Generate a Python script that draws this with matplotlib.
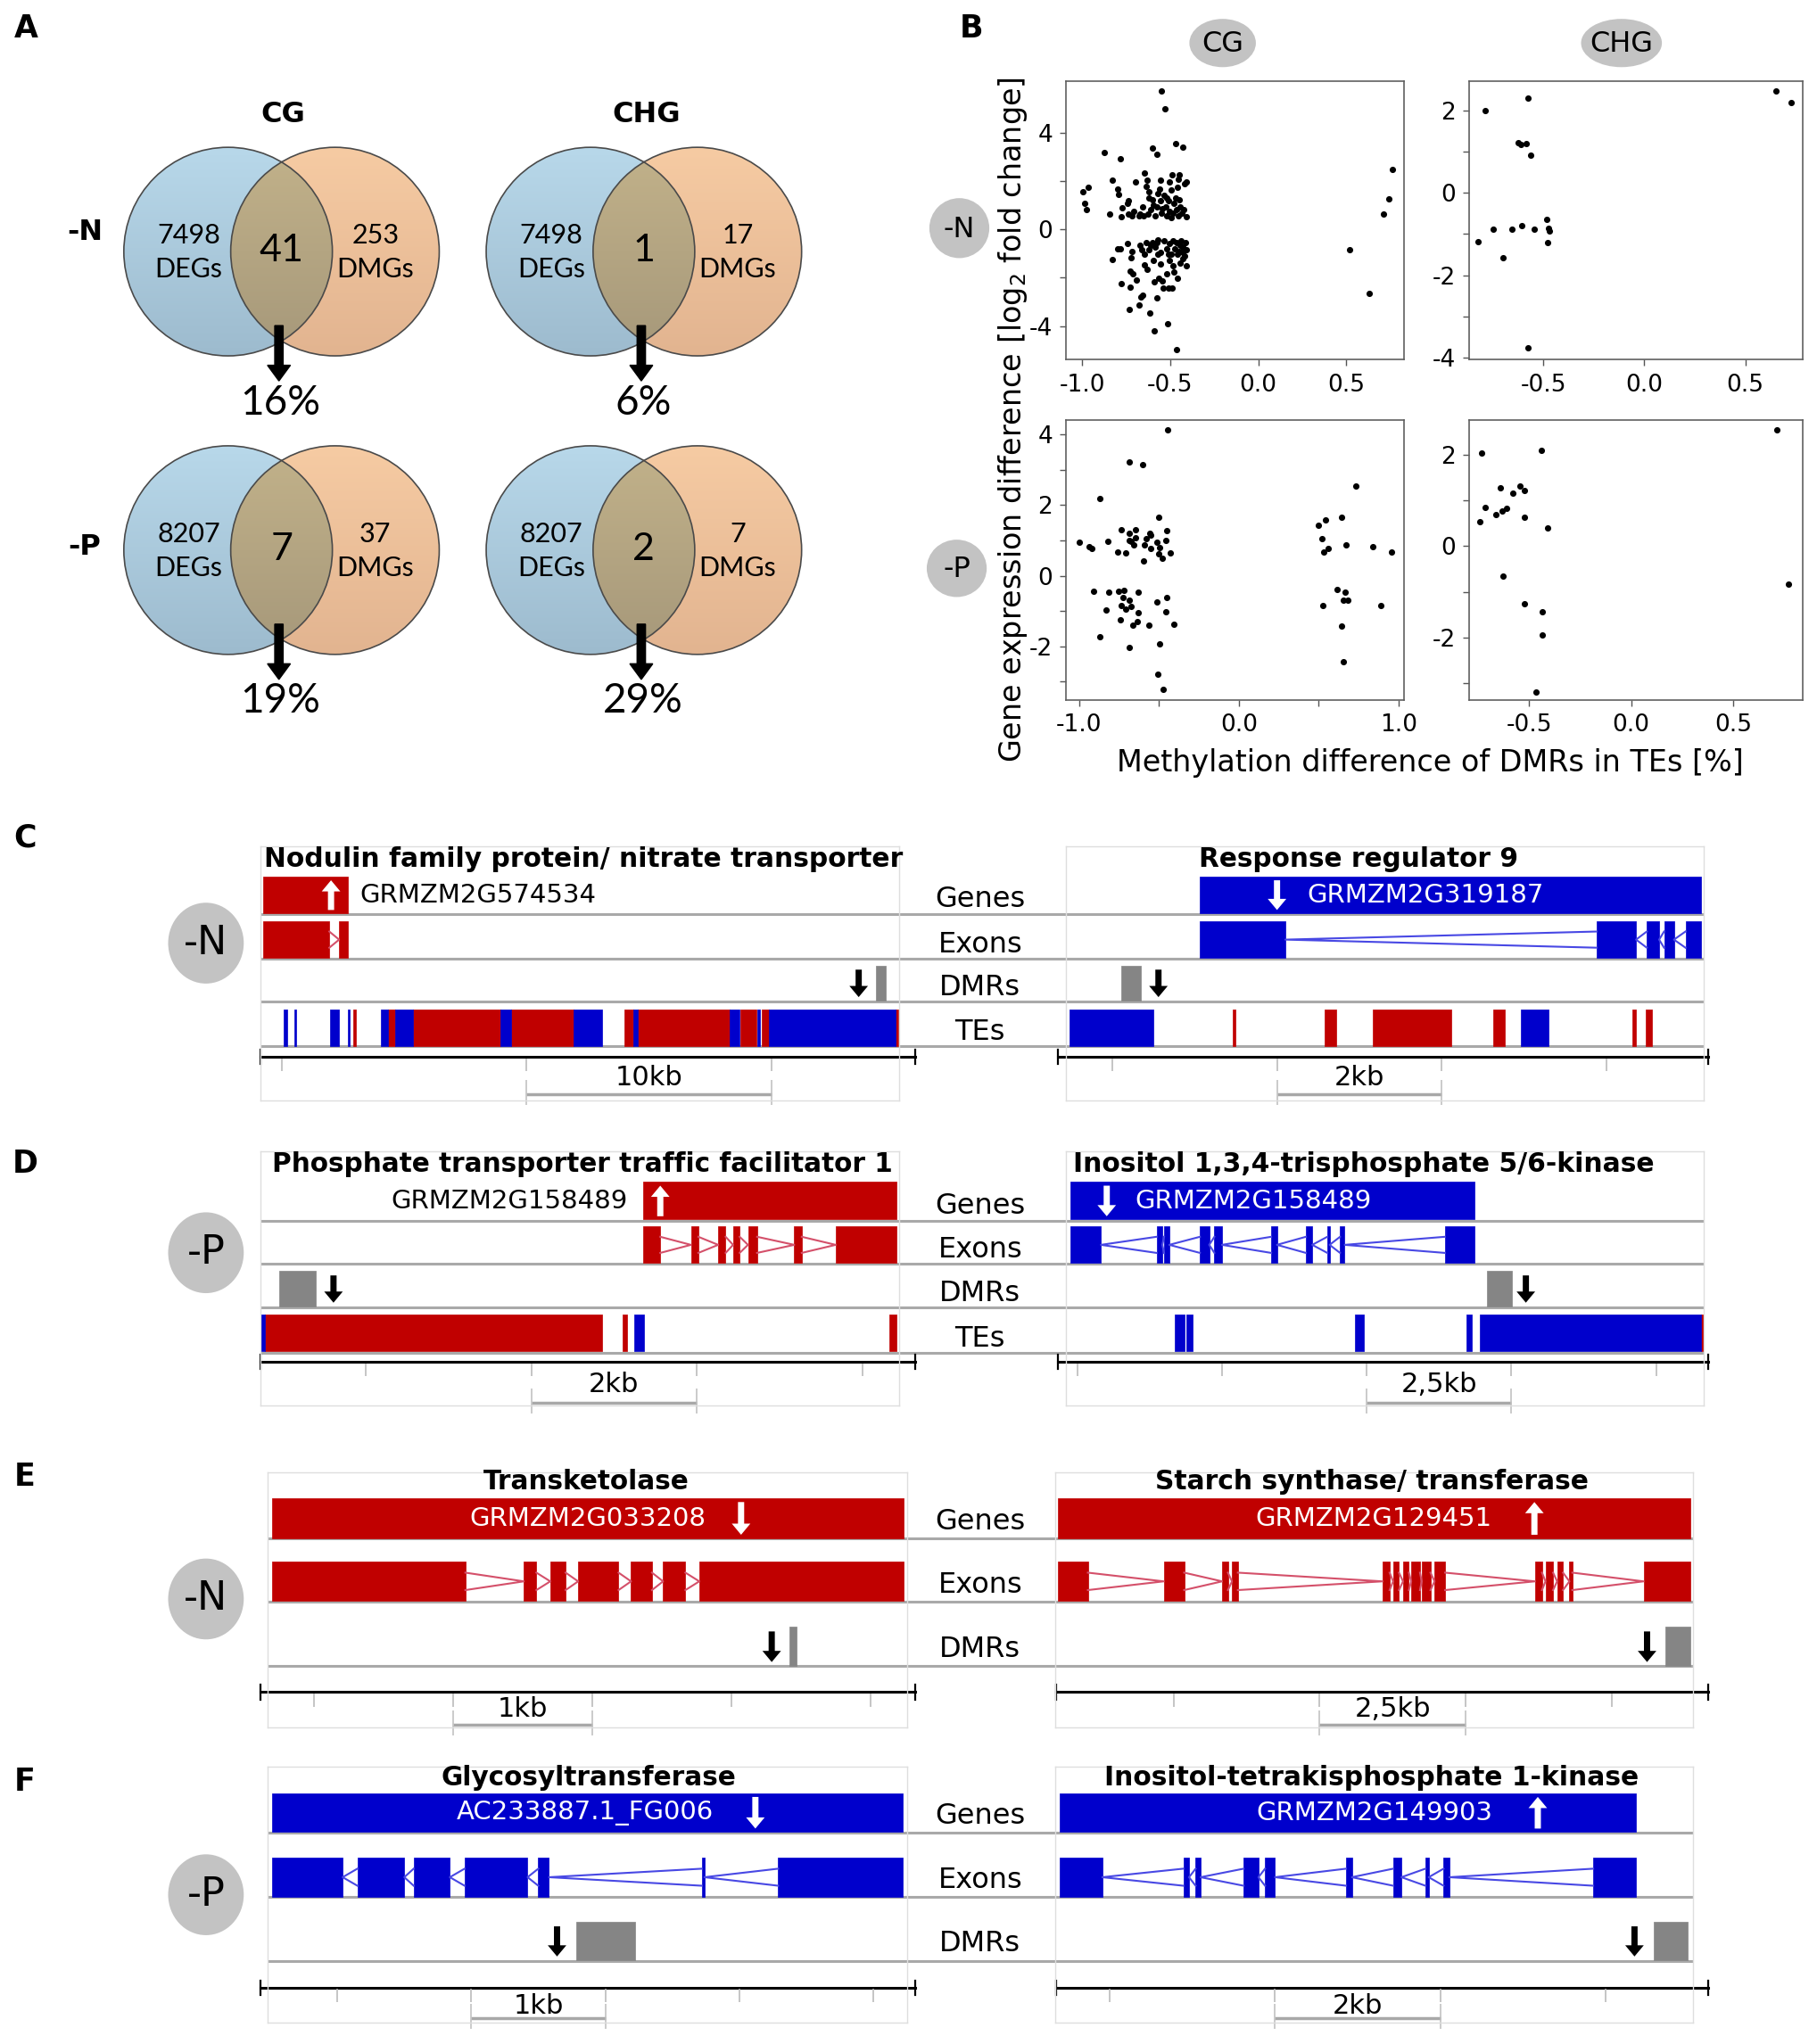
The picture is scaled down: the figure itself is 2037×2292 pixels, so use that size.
import numpy as np
import matplotlib
matplotlib.use('Agg')
import matplotlib.pyplot as plt
from matplotlib.colors import to_rgb
from matplotlib.patches import Circle, Ellipse, Polygon
from matplotlib.transforms import blended_transform_factory

plt.rcParams['font.family'] = 'DejaVu Sans'
plt.rcParams['axes.unicode_minus'] = False

# ---------------- data ----------------
# A: overlap of DEGs and DMGs
venn_deg = ['7498', '7498', '8207', '8207']
venn_dmg = ['253', '17', '37', '7']
venn_both = ['41', '1', '7', '2']
venn_pct = ['16%', '6%', '19%', '29%']

# B: methylation difference (x) vs log2 fold change (y)
cg_n = [(-0.549, 5.74), (-0.529, 4.99), (-0.468, 3.56), (-0.429, 3.42), (-0.603, 3.36), (-0.574, 3.10),
        (-0.872, 3.17), (-0.785, 2.91), (-0.648, 2.34), (-0.488, 2.26), (-0.449, 2.26), (-0.827, 2.02),
        (-0.697, 1.96), (-0.633, 2.04), (-0.557, 2.02), (-0.503, 1.96), (-0.454, 2.06), (-0.409, 1.96),
        (-0.418, 1.89), (-0.993, 1.57), (-0.965, 1.73), (-0.796, 1.67), (-0.791, 1.45), (-0.636, 1.79),
        (-0.620, 1.57), (-0.561, 1.67), (-0.493, 1.63), (-0.460, 1.73), (-0.985, 1.08), (-0.976, 0.81),
        (-0.737, 1.20), (-0.741, 1.06), (-0.774, 0.90), (-0.842, 0.65), (-0.776, 0.54), (-0.737, 0.63),
        (-0.717, 0.56), (-0.709, 0.75), (-0.678, 0.56), (-0.657, 0.93), (-0.650, 0.56), (-0.628, 0.63),
        (-0.620, 1.30), (-0.603, 1.24), (-0.586, 0.56), (-0.577, 0.93), (-0.572, 1.48), (-0.556, 1.18),
        (-0.552, 0.66), (-0.535, 1.42), (-0.527, 0.93), (-0.519, 0.56), (-0.510, 1.18), (-0.502, 0.75),
        (-0.493, 0.50), (-0.481, 1.06), (-0.471, 1.30), (-0.465, 0.81), (-0.454, 0.56), (-0.448, 1.24),
        (-0.443, 0.93), (-0.434, 0.69), (-0.421, 0.81), (-0.409, 0.54), (-0.594, 0.99), (-0.611, 0.81),
        (-0.544, 0.87), (-0.485, 0.69), (-0.522, 1.30), (-0.670, 0.63),
        (-0.830, -1.24), (-0.796, -0.82), (-0.783, -0.79), (-0.741, -0.60), (-0.717, -0.91), (-0.721, -1.18),
        (-0.670, -0.66), (-0.645, -1.03), (-0.636, -0.54), (-0.620, -0.85), (-0.603, -0.54), (-0.586, -0.72),
        (-0.569, -0.42), (-0.556, -0.97), (-0.535, -0.48), (-0.519, -0.79), (-0.505, -0.60), (-0.493, -1.03),
        (-0.476, -0.79), (-0.465, -0.54), (-0.451, -0.91), (-0.438, -0.48), (-0.426, -0.72), (-0.413, -0.54),
        (-0.409, -1.52), (-0.426, -1.21), (-0.443, -1.40), (-0.485, -1.52), (-0.502, -1.28), (-0.481, -1.77),
        (-0.519, -1.83), (-0.556, -1.42), (-0.594, -1.28), (-0.646, -1.46), (-0.633, -1.67), (-0.727, -1.74),
        (-0.710, -1.83), (-0.690, -2.11), (-0.779, -2.23), (-0.726, -2.40), (-0.591, -2.17), (-0.566, -2.01),
        (-0.544, -2.13), (-0.539, -2.44), (-0.510, -2.42), (-0.488, -2.42), (-0.460, -2.04), (-0.657, -2.72),
        (-0.665, -2.81), (-0.678, -3.12), (-0.574, -2.85), (-0.734, -3.33), (-0.614, -3.45), (-0.512, -3.90),
        (-0.588, -4.20), (-0.463, -4.98), (-0.485, -0.48), (-0.460, -1.03), (-0.426, -0.97), (-0.409, -0.85),
        (-0.510, -1.03), (-0.569, -1.03), (-0.611, -0.66), (-0.662, -0.85), (-0.577, -0.54), (-0.446, -0.66),
        (-0.418, -1.09),
        (0.52, -0.86), (0.63, -2.65), (0.71, 0.64), (0.74, 1.28), (0.76, 2.49)]
chg_n = [(-0.786, 2.00), (-0.577, 2.32), (-0.625, 1.23), (-0.611, 1.17), (-0.583, 1.21), (-0.561, 0.92),
         (-0.825, -1.18), (-0.749, -0.88), (-0.701, -1.57), (-0.654, -0.88), (-0.606, -0.79), (-0.546, -0.88),
         (-0.485, -0.64), (-0.473, -0.86), (-0.470, -0.92), (-0.479, -1.21), (-0.575, -3.77),
         (0.654, 2.49), (0.727, 2.21)]
cg_p = [(-0.444, 4.13), (-0.684, 3.23), (-0.601, 3.16), (-0.868, 2.20), (-0.501, 1.66), (-1.000, 0.95),
        (-0.934, 0.83), (-0.919, 0.78), (-0.817, 0.97), (-0.738, 1.30), (-0.684, 1.21), (-0.646, 1.30),
        (-0.648, 1.07), (-0.685, 1.00), (-0.676, 0.98), (-0.657, 0.88), (-0.757, 0.68), (-0.710, 0.65),
        (-0.597, 0.41), (-0.591, 0.88), (-0.582, 1.04), (-0.559, 1.20), (-0.554, 1.15), (-0.554, 0.77),
        (-0.512, 0.95), (-0.495, 0.81), (-0.503, 0.61), (-0.476, 0.50), (-0.456, 1.01), (-0.452, 1.28),
        (-0.429, 0.65),
        (-0.908, -0.45), (-0.812, -0.47), (-0.751, -0.44), (-0.719, -0.42), (-0.727, -0.62), (-0.687, -0.68),
        (-0.631, -0.47), (-0.733, -0.85), (-0.706, -0.95), (-0.674, -0.88), (-0.831, -0.97), (-0.631, -1.05),
        (-0.742, -1.26), (-0.637, -1.31), (-0.661, -1.41), (-0.563, -1.41), (-0.512, -0.73), (-0.452, -0.61),
        (-0.458, -1.01), (-0.407, -1.38), (-0.868, -1.73), (-0.687, -2.04), (-0.495, -1.93), (-0.508, -2.80),
        (-0.475, -3.23),
        (0.734, 2.53), (0.499, 1.43), (0.542, 1.59), (0.646, 1.66), (0.518, 1.04), (0.561, 0.78),
        (0.533, 0.68), (0.670, 0.88), (0.838, 0.83), (0.957, 0.68), (0.614, -0.38), (0.665, -0.47),
        (0.657, -0.69), (0.684, -0.69), (0.527, -0.85), (0.887, -0.84), (0.646, -1.43), (0.652, -2.43)]
chg_p = [(-0.732, 2.04), (-0.742, 0.53), (-0.712, 0.85), (-0.660, 0.69), (-0.641, 1.27), (-0.630, 0.77),
         (-0.611, 0.83), (-0.578, 1.16), (-0.545, 1.31), (-0.523, 1.22), (-0.521, 0.64), (-0.625, -0.66),
         (-0.523, -1.27), (-0.441, 2.10), (-0.408, 0.40), (-0.436, -1.44), (-0.433, -1.94), (-0.466, -3.19),
         (0.710, 2.54), (0.767, -0.84)]

# C-F: genome tracks, positions in kb from the left edge of each window
c1_span = 26.06
c1_gene = (0.10, 3.56)
c1_exons = [(0.10, 2.80), (3.20, 3.55)]
c1_dmrs = [(25.10, 25.50)]
c1_te_red = [(3.78, 3.88), (5.21, 5.48), (6.22, 9.79), (10.21, 12.77), (14.84, 15.21), (15.40, 19.15),
             (19.57, 20.21), (20.43, 20.74), (25.90, 26.00)]
c1_te_blue = [(0.94, 1.09), (1.38, 1.43), (2.82, 3.19), (3.56, 3.64), (4.89, 5.21), (5.48, 6.22),
              (9.79, 10.21), (12.77, 13.94), (15.21, 15.40), (19.15, 19.52), (20.27, 20.37), (20.74, 25.90)]
c1_ticks = [0.85, 10.85, 20.85]

c2_span = 7.74
c2_gene = (1.62, 7.71)
c2_exons = [(1.62, 2.66), (6.44, 6.92), (7.05, 7.20), (7.26, 7.38), (7.52, 7.71)]
c2_dmrs = [(0.67, 0.91)]
c2_te_red = [(2.02, 2.06), (3.14, 3.28), (3.72, 4.68), (5.18, 5.33), (6.88, 6.92), (7.04, 7.11)]
c2_te_blue = [(0.04, 1.06), (5.52, 5.86)]
c2_ticks = [0.56, 2.56, 4.56, 6.56]

d1_span = 7.72
d1_gene = (4.62, 7.68)
d1_exons = [(4.62, 4.83), (5.20, 5.29), (5.53, 5.62), (5.71, 5.79), (5.89, 6.00), (6.45, 6.54), (6.95, 7.68)]
d1_dmrs = [(0.22, 0.67)]
d1_te_red = [(0.05, 4.13), (4.38, 4.43), (7.60, 7.69)]
d1_te_blue = [(0.00, 0.05), (4.52, 4.63)]
d1_ticks = [1.27, 3.27, 5.27, 7.27]

d2_span = 11.01
d2_gene = (0.07, 7.05)
d2_exons = [(0.07, 0.60), (1.56, 1.66), (1.69, 1.78), (2.31, 2.47), (2.56, 2.69), (3.54, 3.64),
            (4.14, 4.25), (4.51, 4.55), (4.73, 4.81), (6.54, 7.05)]
d2_dmrs = [(7.27, 7.70)]
d2_te_red = [(10.96, 11.01)]
d2_te_blue = [(1.88, 2.04), (2.07, 2.18), (4.99, 5.14), (6.91, 7.01), (7.14, 10.96)]
d2_ticks = [0.19, 2.69, 5.19, 7.69, 10.19]

e1_span = 4.59
e1_gene = (0.03, 4.57)
e1_exons = [(0.03, 1.42), (1.84, 1.93), (2.03, 2.14), (2.23, 2.52), (2.61, 2.76), (2.84, 3.00), (3.10, 4.57)]
e1_dmrs = [(3.75, 3.80)]
e1_ticks = [0.33, 1.33, 2.33, 3.33, 4.33]

e2_span = 10.93
e2_gene = (0.05, 10.88)
e2_exons = [(0.05, 0.56), (1.86, 2.21), (2.86, 2.96), (3.03, 3.13), (5.61, 5.73), (5.79, 5.89), (5.96, 6.06),
            (6.10, 6.25), (6.28, 6.43), (6.50, 6.68), (8.22, 8.34), (8.40, 8.53), (8.60, 8.70), (8.81, 8.86),
            (10.08, 10.88)]
e2_dmrs = [(10.45, 10.88)]
e2_ticks = [2.03, 4.53, 7.03, 9.53]

f1_span = 4.77
f1_gene = (0.03, 4.74)
f1_exons = [(0.03, 0.56), (0.67, 1.02), (1.09, 1.36), (1.47, 1.94), (2.02, 2.10), (3.24, 3.26), (3.81, 4.74)]
f1_dmrs = [(2.30, 2.74)]
f1_ticks = [0.52, 1.52, 2.52, 3.52, 4.52]

f2_span = 7.72
f2_gene = (0.05, 7.03)
f2_exons = [(0.05, 0.57), (1.55, 1.62), (1.70, 1.76), (2.28, 2.46), (2.54, 2.66), (3.52, 3.59),
            (4.09, 4.19), (4.48, 4.52), (4.70, 4.77), (6.51, 7.03)]
f2_dmrs = [(7.24, 7.65)]
f2_ticks = [0.66, 2.66, 4.66, 6.66]

# ---------------- layout (reference pixel grid 1394 x 1568) ----------------
W, H = 1394.0, 1568.0
SC = 2037.0 / 1394.0
RED = '#c00000'
BLUE = '#0000cc'
GRAY = '#858585'

fig = plt.figure(figsize=(20.37, 22.92), dpi=100)
fig.patch.set_facecolor('white')


def box(x0, y0, x1, y1):
    return [x0 / W, 1 - y1 / H, (x1 - x0) / W, (y1 - y0) / H]


def fit(t, w):
    r = fig.canvas.get_renderer()
    cur = t.get_window_extent(r).width
    t.set_fontsize(t.get_fontsize() * w * SC / cur)


ov = fig.add_axes([0, 0, 1, 1])
ov.set_xlim(0, W)
ov.set_ylim(H, 0)
ov.axis('off')

# panel letters
for lab, x, y in [('A', 20, 22), ('B', 745, 22), ('C', 19, 643), ('D', 19, 893), ('E', 19, 1133), ('F', 19, 1367)]:
    ov.text(x, y, lab, ha='center', va='center', fontsize=25, fontweight='bold')

# ---------------- A: Venn diagrams ----------------
R = 80.0
for lab, x, y in [('CG', 217, 88), ('CHG', 496, 88), ('-N', 65, 178), ('-P', 65, 420)]:
    ov.text(x, y, lab, ha='center', va='center', fontsize=23, fontweight='bold')


def grad(ax, ctop, cbot, ext, clip):
    t = np.linspace(0, 1, 200)[:, None, None]
    img = np.array(to_rgb(ctop)) * (1 - t) + np.array(to_rgb(cbot)) * t
    im = ax.imshow(img, extent=ext, origin='upper', aspect='auto', zorder=1, interpolation='bilinear')
    im.set_clip_path(clip)


def venn(cx, cy, i):
    ax = fig.add_axes(box(cx - 150, cy - 100, cx + 150, cy + 130))
    a = 0.5125
    cb = Circle((-a, 0), 1.0, fill=False, ec='#4a4a4a', lw=1.2, zorder=4)
    co = Circle((a, 0), 1.0, fill=False, ec='#4a4a4a', lw=1.2, zorder=4)
    ax.add_patch(cb)
    ax.add_patch(co)
    grad(ax, '#b8d8ea', '#9dbbce', [-a - 1, -a + 1, -1, 1], cb)
    grad(ax, '#f6cba3', '#e2b490', [a - 1, a + 1, -1, 1], co)
    p0 = np.arccos(a)
    t1 = np.linspace(-p0, p0, 100)
    t2 = np.linspace(np.pi - p0, np.pi + p0, 100)
    lens = np.vstack([np.c_[-a + np.cos(t1), np.sin(t1)], np.c_[a + np.cos(t2), np.sin(t2)]])
    lp = Polygon(lens, closed=True, transform=ax.transData)
    grad(ax, '#c2b28a', '#a6987a', [-1, 1, -1, 1], lp)
    ax.text(-0.89, -0.01, venn_deg[i] + '\nDEGs', ha='center', va='center', fontsize=22,
            family='Lato', linespacing=1.45, zorder=5)
    ax.text(0.9, -0.01, venn_dmg[i] + '\nDMGs', ha='center', va='center', fontsize=22,
            family='Lato', linespacing=1.45, zorder=5)
    ax.text(0.0, 0.01, venn_both[i], ha='center', va='center', fontsize=31, family='Lato', zorder=5)
    ax.arrow(-0.025, -0.71, 0, -0.53, width=0.08, head_width=0.22, head_length=0.15,
             length_includes_head=True, color='k', zorder=6)
    ax.text(-0.01, -1.45, venn_pct[i], ha='center', va='center', fontsize=33, family='Lato', zorder=5)
    ax.set_xlim(-150 / R, 150 / R)
    ax.set_ylim(-130 / R, 100 / R)
    ax.axis('off')


venn(216, 193, 0)
venn(494, 193, 1)
venn(216, 422, 2)
venn(494, 422, 3)

# ---------------- B: scatter plots ----------------
for lab, x, y, w, h in [('CG', 938, 33, 51, 37), ('CHG', 1244, 33, 62, 37),
                        ('-N', 736, 175, 46, 46), ('-P', 734, 436, 46, 44)]:
    ov.add_patch(Ellipse((x, y), w, h, color='#c3c3c3', lw=0))
    ov.text(x, y + 1, lab, ha='center', va='center', fontsize=23)


def scatter_panel(pos, pts, xlim, ylim, xmaj, xmin, ymaj, ymin):
    ax = fig.add_axes(box(*pos))
    x, y = zip(*pts)
    ax.scatter(x, y, s=26, c='k', linewidths=0)
    ax.set_xlim(xlim)
    ax.set_ylim(ylim)
    ax.set_xticks(xmaj)
    ax.set_xticks(xmin, minor=True)
    ax.set_xticklabels(['%.1f' % v for v in xmaj])
    ax.set_yticks(ymaj)
    ax.set_yticks(ymin, minor=True)
    ax.set_yticklabels(['%d' % v for v in ymaj])
    ax.tick_params(which='both', direction='out', length=5, width=1, color='#555555',
                   labelsize=19, pad=6)
    for s in ax.spines.values():
        s.set_color('#606060')
        s.set_linewidth(1.2)


scatter_panel((818, 62, 1077, 276), cg_n, (-1.09, 0.826), (-5.4, 6.15),
              [-1.0, -0.5, 0.0, 0.5], [], [-4, 0, 4], [-2, 2])
scatter_panel((1127, 62, 1383, 276), chg_n, (-0.868, 0.784), (-4.06, 2.73),
              [-0.5, 0.0, 0.5], [], [-4, -2, 0, 2], [-3, -1, 1])
scatter_panel((818, 322, 1077, 537), cg_p, (-1.08, 1.033), (-3.52, 4.42),
              [-1.0, 0.0, 1.0], [-0.5, 0.5], [-2, 0, 2, 4], [-3, -1, 1, 3])
scatter_panel((1127, 322, 1383, 537), chg_p, (-0.793, 0.838), (-3.37, 2.77),
              [-0.5, 0.0, 0.5], [], [-2, 0, 2], [-3, -1, 1])

ov.text(777, 322, 'Gene expression difference [log$_2$ fold change]', rotation=90,
        ha='center', va='center', fontsize=24)
ov.text(1097, 585, 'Methylation difference of DMRs in TEs [%]', ha='center', va='center', fontsize=24)

# ---------------- C-F: genome browser tracks ----------------
groups = {
    'C': dict(top=649, bottom=844, title=659, tag='-N', ell=723.5,
              rows=[(672.5, 700.3), (706.7, 734.9), (740.6, 767.6), (774.4, 802.2)],
              seps=[701, 735.5, 768.5, 802.8], ruler=810.9, lab=826.9, bar=839.4),
    'D': dict(top=883, bottom=1078, title=893, tag='-P', ell=961,
              rows=[(906.7, 935.3), (940.9, 969.0), (975.2, 1002.0), (1008.6, 1036.7)],
              seps=[936.6, 969.5, 1003.0, 1037.9], ruler=1044.7, lab=1062, bar=1076),
    'E': dict(top=1129.6, bottom=1324.8, title=1137, tag='-N', ell=1226.6,
              rows=[(1149.2, 1179.8), (1197.9, 1228.3), (1247.9, 1278.0)],
              seps=[1180.2, 1228.9, 1278.0], ruler=1298.1, lab=1311, bar=1323),
    'F': dict(top=1355.4, bottom=1551.6, title=1364, tag='-P', ell=1453.5,
              rows=[(1375.5, 1405.1), (1425.2, 1454.9), (1474.2, 1503.8)],
              seps=[1406.2, 1455.3, 1504.3], ruler=1524.8, lab=1538.6, bar=1548.3),
}

track_names = ['Genes', 'Exons', 'DMRs', 'TEs']
for key, g in groups.items():
    xl, xr = (200, 1307) if key in 'CD' else (205.3, 1299)
    off = 11 if key in 'CD' else 13
    ov.hlines(g['seps'], xl, xr, color='#a9a9a9', lw=2.2)
    for name, s in zip(track_names, g['seps']):
        ov.text(752, s - off, name, ha='center', va='center', fontsize=23)
    ov.add_patch(Ellipse((158, g['ell']), 58, 62, color='#c3c3c3', lw=0))
    ov.text(158, g['ell'], g['tag'], ha='center', va='center', fontsize=32)


def arrow(ax, x, y_from, y_to, c, ms=10):
    ax.annotate('', xy=(x, y_to), xytext=(x, y_from),
                arrowprops=dict(arrowstyle='simple,head_length=0.9,head_width=1.5,tail_width=0.5',
                                fc=c, ec='none', lw=0, mutation_scale=ms, shrinkA=0, shrinkB=0))


def bars(ax, segs, y0, y1, c):
    ax.broken_barh([(a, b - a) for a, b in segs], (y0, y1 - y0), facecolors=c, edgecolors=c, linewidths=0.5)


def track(x0, x1, rx0, rx1, g, span, col, gene, exons, dmrs, te_red, te_blue, ticks, bar_i, scale_txt,
          title, title_fx, title_w, glab, glab_x, glab_ha, glab_col, garrow_x, garrow_up, darrow_x):
    ax = fig.add_axes(box(x0, g['top'], x1, g['bottom']))
    ax.set_xlim(0, span)
    ax.set_ylim(g['bottom'], g['top'])
    ax.patch.set_visible(False)
    ax.set_xticks([])
    ax.set_yticks([])
    for s in ax.spines.values():
        s.set_color('#dedede')
        s.set_linewidth(1)
    rows = g['rows']
    (gy0, gy1), (ey0, ey1), (dy0, dy1) = rows[:3]
    bars(ax, [gene], gy0, gy1, col)
    bars(ax, exons, ey0, ey1, col)
    em = (ey0 + ey1) / 2
    sp = 0.22 * (ey1 - ey0)
    icol = '#d4506a' if col == RED else '#4848e4'
    for (a0, a1), (b0, b1) in zip(exons[:-1], exons[1:]):
        xs = [a1, b0, a1] if col == RED else [b0, a1, b0]
        ax.plot(xs, [em - sp, em, em + sp], color=icol, lw=1.5)
    bars(ax, dmrs, dy0, dy1, GRAY)
    dh = dy1 - dy0
    arrow(ax, darrow_x, dy0 + 0.12 * dh, dy1 - 0.1 * dh, 'k')
    if len(rows) > 3:
        ty0, ty1 = rows[3]
        bars(ax, te_red, ty0, ty1, RED)
        bars(ax, te_blue, ty0, ty1, BLUE)
    gh = gy1 - gy0
    if garrow_up:
        arrow(ax, garrow_x, gy1 - 0.08 * gh, gy0 + 0.1 * gh, 'white')
    else:
        arrow(ax, garrow_x, gy0 + 0.1 * gh, gy1 - 0.08 * gh, 'white')
    ax.text(glab_x, (gy0 + gy1) / 2 + 0.5, glab, ha=glab_ha, va='center', color=glab_col, fontsize=21)
    tr = blended_transform_factory(ax.transAxes, ax.transData)
    t = ax.text(title_fx, g['title'], title, transform=tr, ha='center', va='center',
                fontweight='bold', fontsize=20)
    fit(t, title_w)
    fa0 = (rx0 - x0) / (x1 - x0)
    fa1 = (rx1 - x0) / (x1 - x0)
    ry = g['ruler']
    ax.plot([fa0, fa1], [ry, ry], color='k', lw=2.2, transform=tr, clip_on=False)
    for fe in (fa0, fa1):
        ax.plot([fe, fe], [ry - 5.5, ry + 5.5], color='k', lw=1.6, transform=tr, clip_on=False)
    ax.vlines(ticks, ry + 1, ry + 11, color='#b5b5b5', lw=1.1)
    a, b = ticks[bar_i], ticks[bar_i + 1]
    by = g['bar']
    ax.hlines(by, a, b, color='#a8a8a8', lw=2.5, clip_on=False)
    ax.vlines([a, b], by - 11, by + 8, color='#bdbdbd', lw=1.1, clip_on=False)
    ax.text((a + b) / 2, g['lab'], scale_txt, ha='center', va='center', fontsize=22)


gC, gD, gE, gF = groups['C'], groups['D'], groups['E'], groups['F']

track(200, 690, 200, 702, gC, c1_span, RED, c1_gene, c1_exons, c1_dmrs, c1_te_red, c1_te_blue,
      c1_ticks, 1, '10kb', 'Nodulin family protein/ nitrate transporter', 0.505, 491,
      'GRMZM2G574534', 4.04, 'left', 'k', 2.87, True, 24.4)
track(818, 1307, 811.6, 1310.5, gC, c2_span, BLUE, c2_gene, c2_exons, c2_dmrs, c2_te_red, c2_te_blue,
      c2_ticks, 1, '2kb', 'Response regulator 9', 0.459, 245,
      'GRMZM2G319187', 2.93, 'left', 'white', 2.56, False, 1.12)
track(200, 690, 200, 702, gD, d1_span, RED, d1_gene, d1_exons, d1_dmrs, d1_te_red, d1_te_blue,
      d1_ticks, 1, '2kb', 'Phosphate transporter traffic facilitator 1', 0.503, 477,
      'GRMZM2G158489', 4.44, 'right', 'k', 4.83, True, 0.88)
track(818, 1307, 811.6, 1310.5, gD, d2_span, BLUE, d2_gene, d2_exons, d2_dmrs, d2_te_red, d2_te_blue,
      d2_ticks, 2, '2,5kb', 'Inositol 1,3,4-trisphosphate 5/6-kinase', 0.467, 446,
      'GRMZM2G158489', 1.19, 'left', 'white', 0.70, False, 7.94)
track(205.3, 695.7, 200, 702, gE, e1_span, RED, e1_gene, e1_exons, e1_dmrs, [], [],
      e1_ticks, 1, '1kb', 'Transketolase', 0.498, 158,
      'GRMZM2G033208', 2.30, 'center', 'white', 3.40, False, 3.62)
track(809.5, 1299, 810.3, 1310.5, gE, e2_span, RED, e2_gene, e2_exons, e2_dmrs, [], [],
      e2_ticks, 1, '2,5kb', 'Starch synthase/ transferase', 0.496, 332,
      'GRMZM2G129451', 5.46, 'center', 'white', 8.21, True, 10.14)
track(205.3, 695.7, 200, 702, gF, f1_span, BLUE, f1_gene, f1_exons, f1_dmrs, [], [],
      f1_ticks, 1, '1kb', 'Glycosyltransferase', 0.502, 227,
      'AC233887.1_FG006', 2.37, 'center', 'white', 3.64, False, 2.16)
track(809.5, 1299, 810.3, 1310.5, gF, f2_span, BLUE, f2_gene, f2_exons, f2_dmrs, [], [],
      f2_ticks, 1, '2kb', 'Inositol-tetrakisphosphate 1-kinase', 0.496, 410,
      'GRMZM2G149903', 3.86, 'center', 'white', 5.84, True, 7.01)

fig.savefig('out.png', dpi=100)
